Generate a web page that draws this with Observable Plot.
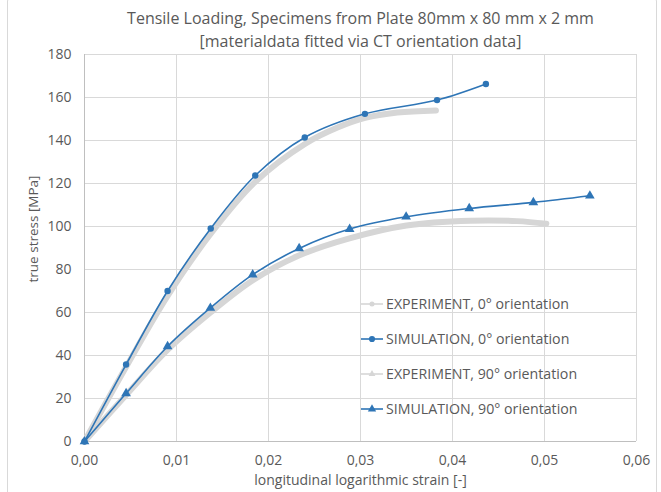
<!DOCTYPE html>
<html>
<head>
<meta charset="utf-8">
<script src="https://cdn.jsdelivr.net/npm/d3@7"></script>
<script src="https://cdn.jsdelivr.net/npm/@observablehq/plot@0.6"></script>
<style>
  html, body { margin: 0; padding: 0; background: #fff; }
  #wrap { position: relative; width: 661px; height: 492px; overflow: hidden; font-family: "Open Sans", sans-serif; }
  #frame { position: absolute; left: 7px; top: -2px; width: 648px; height: 500px; border: 1px solid #d9d9d9; border-radius: 3px; pointer-events: none; }
  #legend { position: absolute; left: 360px; top: 286px; color: #595959; font-size: 14.2px; }
  .row { height: 35px; display: flex; align-items: center; }
  .row svg { margin-right: 2px; }
</style>
</head>
<body>
<div id="wrap"><div id="frame"></div><div id="legend"></div></div>
<script>
// ---- data ----
const titleLines = ["Tensile Loading, Specimens from Plate 80mm x 80 mm x 2 mm", "[materialdata fitted via CT orientation data]"];
const xLabel = "longitudinal logarithmic strain [-]";
const yLabel = "true stress [MPa]";
const xTicks = [0, 0.01, 0.02, 0.03, 0.04, 0.05, 0.06];
const yTicks = [0, 20, 40, 60, 80, 100, 120, 140, 160, 180];

const exp0Strain = [0, 0.0045, 0.009, 0.0137, 0.0185, 0.024, 0.0275, 0.0305, 0.034, 0.0382];
const exp0Stress = [0, 34.5, 67.5, 96.5, 120.5, 138.5, 146, 150.5, 153, 154];

const sim0Strain = [0, 0.00452, 0.00903, 0.01372, 0.01856, 0.02394, 0.03048, 0.03832, 0.04363];
const sim0Stress = [0, 35.8, 70.0, 99.1, 123.7, 141.4, 152.4, 158.8, 166.3];

const exp90Strain = [0, 0.0045, 0.009, 0.0137, 0.0183, 0.0233, 0.0288, 0.035, 0.042, 0.047, 0.0502];
const exp90Stress = [0, 21.5, 42.5, 60, 75, 86.5, 94.5, 100.5, 102.7, 102.5, 101.3];

const sim90Strain = [0, 0.00452, 0.00903, 0.01368, 0.01828, 0.02333, 0.02882, 0.03496, 0.04182, 0.04879, 0.05493];
const sim90Stress = [0, 22.4, 44.2, 62.1, 77.6, 89.8, 98.8, 104.5, 108.4, 111.2, 114.3];

const seriesNames = ["EXPERIMENT, 0° orientation", "SIMULATION, 0° orientation", "EXPERIMENT, 90° orientation", "SIMULATION, 90° orientation"];
const seriesColors = ["#d6d6d6", "#2e75b6", "#d6d6d6", "#2e75b6"];
const seriesSymbols = ["circle", "circle", "triangle", "triangle"];

// ---- build tables ----
const toRows = (xs, ys) => xs.map((x, i) => ({x, y: ys[i]}));
const exp0 = toRows(exp0Strain, exp0Stress);
const sim0 = toRows(sim0Strain, sim0Stress);
const exp90 = toRows(exp90Strain, exp90Stress);
const sim90 = toRows(sim90Strain, sim90Stress);

const fmtX = d => d.toFixed(2).replace(".", ",");
const gray = "#595959";

const chart = Plot.plot({
  width: 661,
  height: 492,
  marginTop: 54,
  marginBottom: 51,
  marginLeft: 84,
  marginRight: 25,
  style: {fontFamily: "'Open Sans', sans-serif", fontSize: "14px", color: gray, background: "transparent"},
  x: {domain: [0, 0.06]},
  y: {domain: [0, 180]},
  marks: [
    Plot.gridX(xTicks, {stroke: "#d9d9d9", strokeOpacity: 1}),
    Plot.gridY(yTicks, {stroke: "#d9d9d9", strokeOpacity: 1}),
    Plot.ruleY([0], {stroke: "#bfbfbf"}),
    Plot.ruleX([0], {stroke: "#bfbfbf"}),
    Plot.axisX(xTicks, {tickSize: 0, tickPadding: 14, tickFormat: fmtX, label: null, fill: gray, fontSize: 14}),
    Plot.axisY(yTicks, {tickSize: 0, tickPadding: 13, label: null, fill: gray, fontSize: 14}),
    Plot.text([xLabel], {frameAnchor: "bottom", textAnchor: "middle", dy: 43, fill: gray, fontSize: 14}),
    Plot.text([yLabel], {frameAnchor: "left", textAnchor: "middle", dx: -51, dy: -19, rotate: -90, fill: gray, fontSize: 13.5}),
    Plot.text([titleLines[0]], {frameAnchor: "top", dy: -42, fill: gray, fontSize: 16}),
    Plot.text([titleLines[1]], {frameAnchor: "top", dy: -19, fill: gray, fontSize: 16}),
    Plot.line(exp0, {x: "x", y: "y", stroke: seriesColors[0], strokeWidth: 6, curve: "catmull-rom"}),
    Plot.line(exp90, {x: "x", y: "y", stroke: seriesColors[2], strokeWidth: 6, curve: "catmull-rom"}),
    Plot.line(sim0, {x: "x", y: "y", stroke: seriesColors[1], strokeWidth: 1.6, curve: "catmull-rom"}),
    Plot.line(sim90, {x: "x", y: "y", stroke: seriesColors[3], strokeWidth: 1.6, curve: "catmull-rom"}),
    Plot.dot(sim0, {x: "x", y: "y", fill: seriesColors[1], r: 3.2, symbol: "circle"}),
    Plot.dot(sim90, {x: "x", y: "y", fill: seriesColors[3], r: 3.6, symbol: "triangle"})
  ]
});
document.getElementById("wrap").insertBefore(chart, document.getElementById("frame"));

// ---- legend ----
const legend = d3.select("#legend");
seriesNames.forEach((name, i) => {
  const row = legend.append("div").attr("class", "row");
  const svg = row.append("svg").attr("width", 24).attr("height", 12);
  svg.append("line").attr("x1", 1).attr("x2", 23).attr("y1", 6).attr("y2", 6)
    .attr("stroke", seriesColors[i]).attr("stroke-width", 1.6);
  const sym = d3.symbol(seriesSymbols[i] === "circle" ? d3.symbolCircle : d3.symbolTriangle, i % 2 ? 30 : 20)();
  svg.append("path").attr("d", sym).attr("transform", "translate(12,6)").attr("fill", seriesColors[i]);
  row.append("span").text(name);
});
</script>
</body>
</html>
